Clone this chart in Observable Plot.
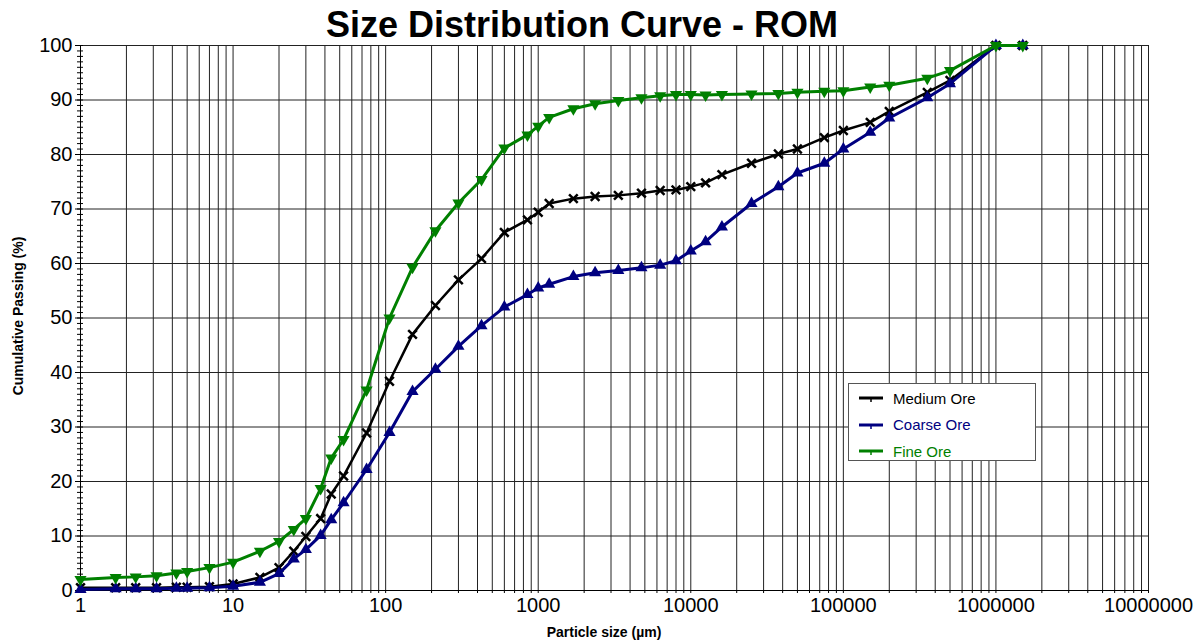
<!DOCTYPE html>
<html><head><meta charset="utf-8">
<script src="https://cdn.jsdelivr.net/npm/d3@7"></script>
<script src="https://cdn.jsdelivr.net/npm/@observablehq/plot@0.6"></script>
<style>
body{margin:0;background:#fff;font-family:"Liberation Sans",Arial,sans-serif;}
#wrap{position:relative;width:1204px;height:644px;overflow:hidden;background:#fff;}
#title{position:absolute;left:0;top:7px;width:1164px;text-align:center;font-weight:bold;font-size:36px;line-height:36px;z-index:2;color:#000;}
#chart{position:absolute;left:0;top:30px;z-index:1;}
#xlab{position:absolute;left:0;width:1208px;top:624px;text-align:center;font-weight:bold;font-size:14px;z-index:2;}
#ylab{position:absolute;left:18px;top:316px;transform:translate(-50%,-50%) rotate(-90deg);white-space:nowrap;font-weight:bold;font-size:14px;z-index:2;}
#legend{position:absolute;left:848px;top:383px;width:186px;height:76px;border:1px solid #555;background:#fff;z-index:3;font-size:15px;}
#legend .row{position:absolute;left:10px;height:20px;display:flex;align-items:center;}
#legend svg{margin-right:10px;}
</style></head>
<body>
<div id="wrap">
  <div id="title">Size Distribution Curve - ROM</div>
  <div id="chart"></div>
  <div id="xlab">Particle size (µm)</div>
  <div id="ylab">Cumulative Passing (%)</div>
  <div id="legend"></div>
</div>
<script>
// Particle sizes (µm)
const sizes = [1, 1.7, 2.3, 3.15, 4.25, 5, 7, 10, 15, 20, 25, 30, 37.5, 44, 53, 75, 106, 150, 212, 300, 425, 600, 850, 1000, 1180, 1700, 2360, 3350, 4750, 6300, 8000, 10000, 12500, 16000, 25000, 37500, 50000, 75000, 100000, 150000, 200000, 355000, 500000, 1000000, 1500000];
// Cumulative passing (%)
const mediumOre = [0.5,0.5,0.5,0.5,0.6,0.6,0.7,1.2,2.4,4.2,7.2,9.9,13.2,17.7,21.0,28.9,38.4,47.0,52.3,57.0,60.9,65.7,68.0,69.4,71.0,71.9,72.3,72.5,72.9,73.4,73.5,74.1,74.8,76.3,78.4,80.1,81.0,83.1,84.4,85.9,87.9,91.4,93.6,100,100];
const coarseOre = [0.2,0.3,0.3,0.3,0.4,0.4,0.5,0.8,1.5,3.1,5.8,7.5,10.1,13.0,16.1,22.2,29.0,36.5,40.6,44.8,48.6,52.0,54.3,55.5,56.2,57.6,58.3,58.7,59.2,59.7,60.5,62.3,64.0,66.7,71.0,74.1,76.6,78.4,81.0,84.1,86.7,90.4,93.0,100,100];
const fineOre = [2.0,2.4,2.5,2.7,3.2,3.5,4.2,5.2,7.2,9.0,11.2,13.2,18.7,24.3,27.7,36.8,50.0,59.3,66.0,71.1,75.4,81.2,83.6,85.2,86.8,88.4,89.3,89.9,90.4,90.8,91.0,91.0,90.9,91.0,91.1,91.2,91.4,91.6,91.7,92.4,92.7,94.0,95.4,100,100];

const seriesNames = ["Medium Ore", "Coarse Ore", "Fine Ore"];
const seriesColors = ["#000000", "#000080", "#008000"];
const xTickLabels = [1, 10, 100, 1000, 10000, 100000, 1000000, 10000000];
const yTickLabels = [0, 10, 20, 30, 40, 50, 60, 70, 80, 90, 100];

const toRows = (vals) => sizes.map((s, i) => ({x: s, y: vals[i]}));
const med = toRows(mediumOre), coa = toRows(coarseOre), fin = toRows(fineOre);

const xGrid = [];
for (let k = 0; k < 7; k++) for (let m = 1; m < 10; m++) xGrid.push(m * 10 ** k);
xGrid.push(1e7);
const yMinor = d3.range(0, 101, 1);

const plot = Plot.plot({
  width: 1204, height: 614,
  marginLeft: 80, marginRight: 56, marginTop: 15, marginBottom: 54,
  style: {fontFamily: "'Liberation Sans', Arial, sans-serif", fontSize: "20px", background: "transparent", overflow: "visible", color: "#000"},
  x: {type: "log", domain: [1, 1e7], axis: null, label: null},
  y: {domain: [0, 100], axis: null, label: null},
  marks: [
    Plot.ruleX(xGrid, {stroke: "#222", strokeWidth: 1}),
    Plot.ruleY(yTickLabels, {stroke: "#222", strokeWidth: 1}),
    Plot.axisY(yMinor, {tickSize: 6, dx: 3, text: null, label: null}),
    Plot.axisY(yTickLabels, {tickSize: 5, tickPadding: 3, label: null, tickFormat: d => String(d)}),
    Plot.axisX(xGrid, {tickSize: 3, text: null, label: null}),
    Plot.axisX(xTickLabels, {tickSize: 0, tickPadding: 7, label: null, tickFormat: d => String(d)}),
    Plot.ruleX([1], {stroke: "#000"}),
    Plot.ruleY([0], {stroke: "#000"}),
    Plot.line(med, {x: "x", y: "y", stroke: seriesColors[0], strokeWidth: 2.5}),
    Plot.dot(med, {x: "x", y: "y", symbol: "times", r: 4, stroke: seriesColors[0], strokeWidth: 2.5}),
    Plot.line(coa, {x: "x", y: "y", stroke: seriesColors[1], strokeWidth: 3}),
    Plot.dot(coa, {x: "x", y: "y", symbol: "triangle", r: 4.5, fill: seriesColors[1], stroke: "none"}),
    Plot.line(fin, {x: "x", y: "y", stroke: seriesColors[2], strokeWidth: 3}),
    Plot.dot(fin, {x: "x", y: "y", symbol: "triangle", rotate: 180, r: 4.5, fill: seriesColors[2], stroke: "none"})
  ]
});
document.getElementById("chart").appendChild(plot);

// Legend
const leg = document.getElementById("legend");
seriesNames.forEach((name, i) => {
  const row = document.createElement("div");
  row.className = "row";
  row.style.top = (4 + i * 26.5) + "px";
  const c = seriesColors[i];
  row.innerHTML = `<svg width="24" height="10"><line x1="0" x2="24" y1="5" y2="5" stroke="${c}" stroke-width="3"/><line x1="12" x2="12" y1="5" y2="9" stroke="${c}" stroke-width="1.5"/></svg><span style="color:${c}">${name}</span>`;
  leg.appendChild(row);
});
</script>
</body></html>
